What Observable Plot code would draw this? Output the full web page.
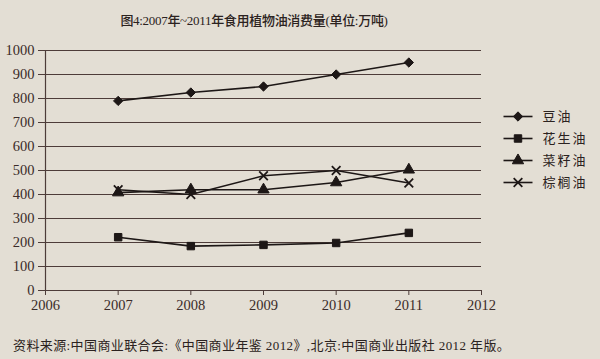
<!DOCTYPE html>
<html>
<head>
<meta charset="utf-8">
<script src="https://cdn.jsdelivr.net/npm/d3@7"></script>
<script src="https://cdn.jsdelivr.net/npm/@observablehq/plot@0.6"></script>
<style>
  html, body { margin: 0; padding: 0; background: #e3ded4; }
  #wrap { position: relative; width: 600px; height: 359px; overflow: hidden; background: #e3ded4; }
  #title { position: absolute; left: 0; width: 508px; top: 10px; text-align: center;
    font-family: "Liberation Serif", "Noto Sans CJK SC", serif; font-size: 13px; font-weight: 500; color: #2b2220; letter-spacing: -0.3px; }
  #caption { position: absolute; left: 13px; top: 335px; white-space: nowrap;
    font-family: "Liberation Serif", "Noto Sans CJK SC", serif; font-size: 13px; color: #2b2220; letter-spacing: 0.4px; }
  #chart { position: absolute; left: 0; top: 0; }
  #legend { position: absolute; left: 500px; top: 105px; }
  #chart svg text { font-family: "Liberation Serif", serif !important; }
  #legend svg text { font-family: "Noto Sans CJK SC", sans-serif !important; }
</style>
</head>
<body>
<div id="wrap">
  <div id="chart"></div>
  <div id="legend"></div>
  <div id="title">图4:2007年~2011年食用植物油消费量(单位:万吨)</div>
  <div id="caption">资料来源:中国商业联合会:《中国商业年鉴 2012》,北京:中国商业出版社 2012 年版。</div>
</div>
<script>
const years = [2007, 2008, 2009, 2010, 2011];
const seriesNames = ["豆油", "花生油", "菜籽油", "棕榈油"];
const soybean = [790, 825, 850, 900, 950];
const peanut = [222, 185, 190, 198, 240];
const rapeseed = [408, 420, 420, 450, 503];
const palm = [420, 400, 478, 500, 448];
const xTicks = [2006, 2007, 2008, 2009, 2010, 2011, 2012];
const yTicks = [0, 100, 200, 300, 400, 500, 600, 700, 800, 900, 1000];
const symbols = ["diamond2", "square", "triangle", "times"];

const seriesValues = [soybean, peanut, rapeseed, palm];
const rows = [];
seriesNames.forEach((name, i) => {
  years.forEach((yr, j) => rows.push({series: name, year: yr, value: seriesValues[i][j]}));
});

const ink = "#1d1716";
const grid = "#4d3c39";

const chart = Plot.plot({
  width: 600,
  height: 359,
  marginLeft: 45,
  marginRight: 119,
  marginTop: 50,
  marginBottom: 69,
  style: {background: "transparent", fontFamily: "'Liberation Serif', serif", fontSize: "14.5px", color: "#3a2b29"},
  x: {domain: [2006, 2012]},
  y: {domain: [0, 1000]},
  symbol: {domain: seriesNames, range: symbols},
  marks: [
    Plot.ruleY(yTicks, {stroke: grid, strokeWidth: 1.2}),
    Plot.ruleX([2006], {stroke: grid, strokeWidth: 1.2}),
    Plot.axisY({ticks: yTicks, tickSize: 7, tickPadding: 4, label: null, stroke: grid, tickFormat: d => String(d)}),
    Plot.axisX({ticks: xTicks, tickSize: 5, tickPadding: 4, label: null, stroke: grid, tickFormat: d => String(d)}),
    Plot.line(rows, {x: "year", y: "value", z: "series", stroke: ink, strokeWidth: 1.6}),
    Plot.dot(rows.filter(d => d.series !== "棕榈油"), {x: "year", y: "value", symbol: "series", fill: ink, stroke: ink, strokeWidth: 1, r: 4.2}),
    Plot.dot(rows.filter(d => d.series === "棕榈油"), {x: "year", y: "value", symbol: "series", stroke: ink, strokeWidth: 1.8, r: 4})
  ]
});
document.getElementById("chart").appendChild(chart);

const legRows = seriesNames.map((name) => ({series: name}));
const legend = Plot.plot({
  width: 100,
  height: 88,
  marginLeft: 3,
  marginRight: 68,
  marginTop: 11,
  marginBottom: 11,
  style: {background: "transparent", fontFamily: "'Noto Sans CJK SC', sans-serif", fontSize: "13px", color: "#2b2220", overflow: "visible"},
  x: {domain: [0, 1], axis: null},
  y: {type: "point", domain: seriesNames, axis: null, padding: 0},
  symbol: {domain: seriesNames, range: symbols},
  marks: [
    Plot.link(legRows, {x1: () => 0, x2: () => 1, y1: "series", y2: "series", stroke: ink, strokeWidth: 1.6}),
    Plot.dot(legRows.filter(d => d.series !== "棕榈油"), {x: () => 0.5, y: "series", symbol: "series", fill: ink, stroke: ink, strokeWidth: 1, r: 4.2}),
    Plot.dot(legRows.filter(d => d.series === "棕榈油"), {x: () => 0.5, y: "series", symbol: "series", stroke: ink, strokeWidth: 1.8, r: 4}),
    Plot.text(legRows, {x: () => 1, y: "series", text: "series", textAnchor: "start", dx: 10, fill: "#2b2220"})
  ]
});
legend.querySelectorAll("text").forEach(t => t.setAttribute("letter-spacing", "2"));
document.getElementById("legend").appendChild(legend);
</script>
</body>
</html>
